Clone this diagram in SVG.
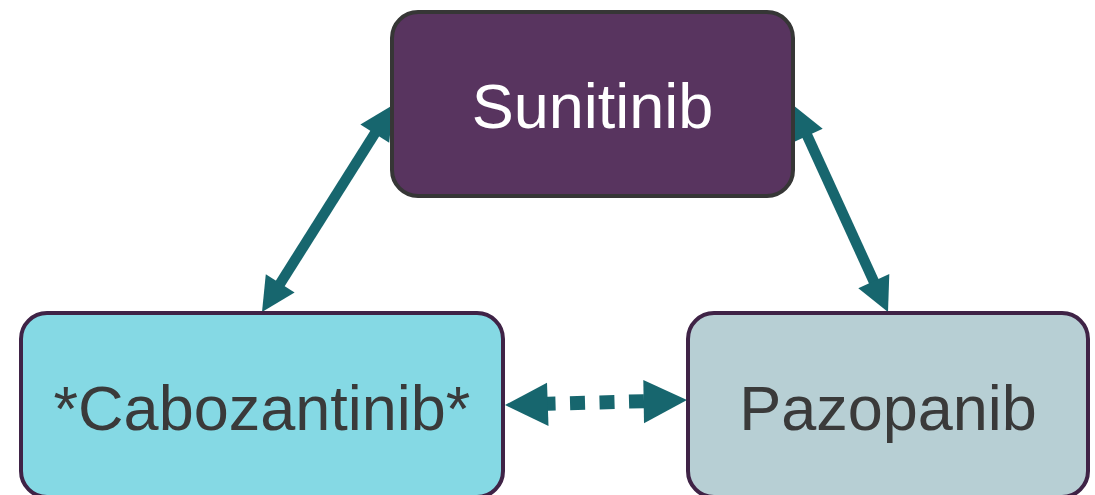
<svg xmlns="http://www.w3.org/2000/svg" width="1095" height="495" viewBox="0 0 1095 495">
<style>
.box{stroke-width:4}
.lbl{font-family:"Liberation Sans",Arial,sans-serif;font-size:63px;text-anchor:middle}
.conn{stroke:#17666E;fill:none}
.head{fill:#17666E;stroke:none}
</style>
<rect width="1095" height="495" fill="#FFFFFF"/>
<g id="connectors">
<line class="conn" stroke-width="10.5" x1="377" y1="130" x2="278" y2="287"/>
<polygon class="head" points="393,105 389.2,142.8 360.4,124.6"/>
<polygon class="head" points="262,312 294.6,292.4 265.8,274.2"/>
<line class="conn" stroke-width="10.5" x1="806" y1="133" x2="875" y2="284"/>
<polygon class="head" points="793,105 822.7,128.8 791.7,143"/>
<polygon class="head" points="888,312 889.3,274 858.3,288.2"/>
<path class="conn" stroke-width="14" stroke-dasharray="15 14.5" d="M644,401.2 L541,404"/>
<polygon class="head" points="505,405 547,382.7 548.5,426"/>
<polygon class="head" points="687,400 643.3,380 644,423.3"/>
</g>
<g id="node-sunitinib">
<rect class="box" x="392" y="12" width="401" height="184" rx="26" fill="#58345F" stroke="#363636"/>
<text class="lbl" x="592.5" y="128" fill="#FFFFFF">Sunitinib</text>
</g>
<g id="node-cabozantinib">
<rect class="box" x="21" y="313" width="482" height="184" rx="26" fill="#85D9E4" stroke="#3F2346"/>
<text class="lbl" x="262" y="430" fill="#3A3A3A">*Cabozantinib*</text>
</g>
<g id="node-pazopanib">
<rect class="box" x="688" y="313" width="400" height="184" rx="26" fill="#B7CFD4" stroke="#3F2346"/>
<text class="lbl" x="888" y="430" fill="#3A3A3A">Pazopanib</text>
</g>
</svg>
